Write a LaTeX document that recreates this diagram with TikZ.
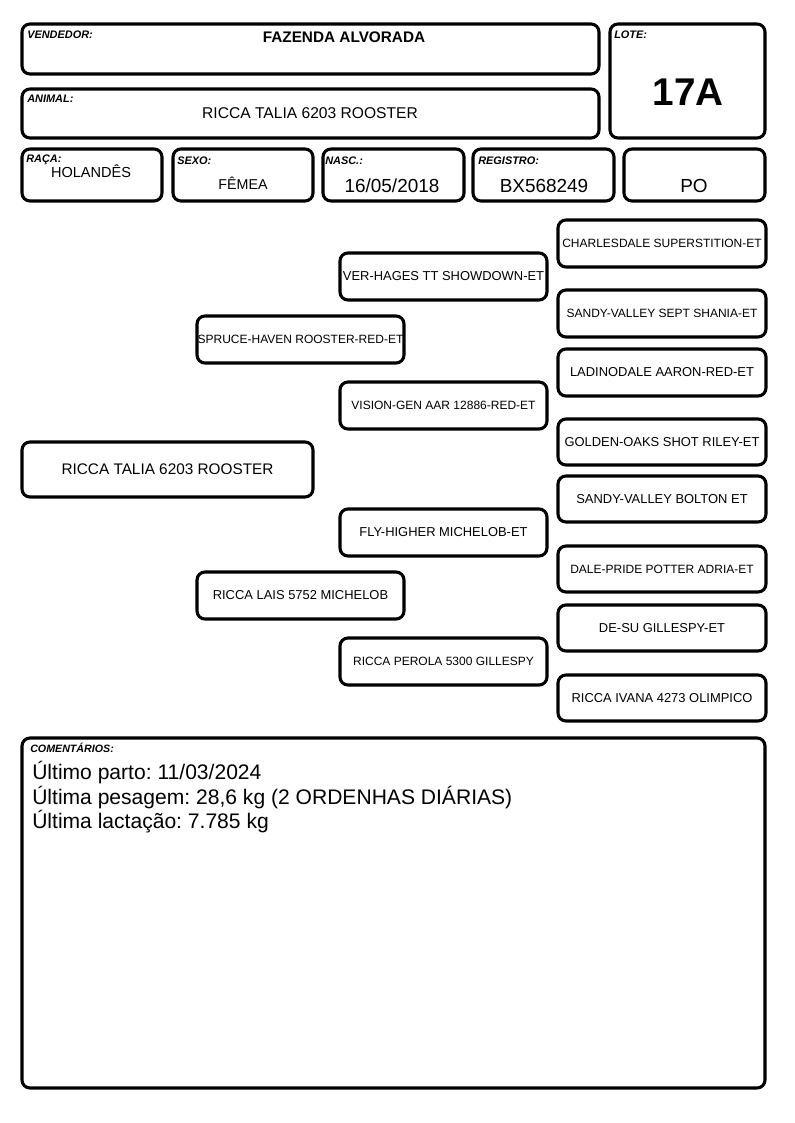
\documentclass[tikz,border=0pt]{standalone}
\usepackage{fontspec}
\setmainfont{Liberation Sans}
\frenchspacing
\newcommand\pbox[7]{\draw[box] (#2,#3) rectangle (#4,#5); \node[#6] (#1) at ({(#2+#4)/2},{(#3+#5)/2}) {#7};}
\begin{document}
\begin{tikzpicture}[x=0.75pt,y=-0.75pt,
 box/.style={draw=black, line width=2.3pt, rounded corners=6pt},
 lbl/.style={anchor=base west, inner sep=0pt, font=\fontsize{8.2}{9}\selectfont\bfseries\itshape},
 val/.style={anchor=base, inner sep=0pt},
 pedA/.style={inner sep=0pt, font=\fontsize{9}{10}\selectfont},
 pedB/.style={inner sep=0pt, font=\fontsize{9.7}{11}\selectfont},
 pedM/.style={inner sep=0pt, font=\fontsize{11.5}{13}\selectfont},
 com/.style={anchor=base west, inner sep=0pt, font=\fontsize{15.8}{18}\selectfont}]
\useasboundingbox (0,0) rectangle (794,1123);

% header boxes
\draw[box] (22,24) rectangle (599,74);
\draw[box] (22,89) rectangle (599,138);
\draw[box] (610,24) rectangle (765,138);
\draw[box] (22,149) rectangle (162,201);
\draw[box] (173,149) rectangle (313,201);
\draw[box] (323,149) rectangle (464,201);
\draw[box] (473,149) rectangle (614,201);
\draw[box] (624,149) rectangle (765,201);

\node[lbl] (lvend) at (27,39) {VENDEDOR:};
\node[lbl] (llote) at (614,39) {LOTE:};
\node[lbl] (lanim) at (27,103) {ANIMAL:};
\node[lbl] (lraca) at (26,163) {RAÇA:};
\node[lbl] (lsexo) at (177,165) {SEXO:};
\node[lbl] (lnasc) at (325,165) {NASC.:};
\node[lbl] (lreg) at (478,165) {REGISTRO:};

\node[val, font=\fontsize{11.5}{13}\selectfont\bfseries] (vvend) at (344,43) {FAZENDA ALVORADA};
\node[val, font=\fontsize{11.7}{13}\selectfont] (vanim) at (310,119) {RICCA TALIA 6203 ROOSTER};
\node[val, font=\fontsize{29}{32}\selectfont\bfseries] (vlote) at (688,106) {17A};
\node[val, font=\fontsize{10.9}{12}\selectfont] (vraca) at (91,178) {HOLANDÊS};
\node[val, font=\fontsize{10.7}{12}\selectfont] (vsexo) at (243,190) {FÊMEA};
\node[val, font=\fontsize{14.2}{16}\selectfont] (vnasc) at (392,193) {16/05/2018};
\node[val, font=\fontsize{14.2}{16}\selectfont] (vreg) at (544,193) {BX568249};
\node[val, font=\fontsize{14.2}{16}\selectfont] (vpo) at (694,193) {PO};

% pedigree
\pbox{g0}{22}{442}{313}{497}{pedM}{RICCA TALIA 6203 ROOSTER}
\pbox{s}{197}{316}{404}{363}{pedA}{SPRUCE-HAVEN ROOSTER-RED-ET}
\pbox{d}{197}{572}{404}{619}{pedB}{RICCA LAIS 5752 MICHELOB}
\pbox{ss}{340}{253}{547}{300}{pedB}{VER-HAGES TT SHOWDOWN-ET}
\pbox{sd}{340}{382}{547}{429}{pedA}{VISION-GEN AAR 12886-RED-ET}
\pbox{ds}{340}{509}{547}{556}{pedB}{FLY-HIGHER MICHELOB-ET}
\pbox{dd}{340}{638}{547}{685}{pedA}{RICCA PEROLA 5300 GILLESPY}
\pbox{sss}{558}{220}{766}{267}{pedA}{CHARLESDALE SUPERSTITION-ET}
\pbox{ssd}{558}{290}{766}{337}{pedA}{SANDY-VALLEY SEPT SHANIA-ET}
\pbox{sds}{558}{349}{766}{396}{pedB}{LADINODALE AARON-RED-ET}
\pbox{sdd}{558}{419}{766}{465}{pedB}{GOLDEN-OAKS SHOT RILEY-ET}
\pbox{dss}{558}{476}{766}{522}{pedB}{SANDY-VALLEY BOLTON ET}
\pbox{dsd}{558}{546}{766}{592}{pedA}{DALE-PRIDE POTTER ADRIA-ET}
\pbox{dds}{558}{605}{766}{651}{pedB}{DE-SU GILLESPY-ET}
\pbox{ddd}{558}{675}{766}{721}{pedB}{RICCA IVANA 4273 OLIMPICO}

% comments
\draw[box] (22,738) rectangle (765,1088);
\node[lbl, font=\fontsize{8}{9}\selectfont\bfseries\itshape] (lcom) at (30,752) {COMENTÁRIOS:};
\node[com] (c1) at (32,779) {Último parto: 11/03/2024};
\node[com] (c2) at (32,804) {Última pesagem: 28,6 kg (2 ORDENHAS DIÁRIAS)};
\node[com] (c3) at (32,828) {Última lactação: 7.785 kg};
\end{tikzpicture}
\end{document}
